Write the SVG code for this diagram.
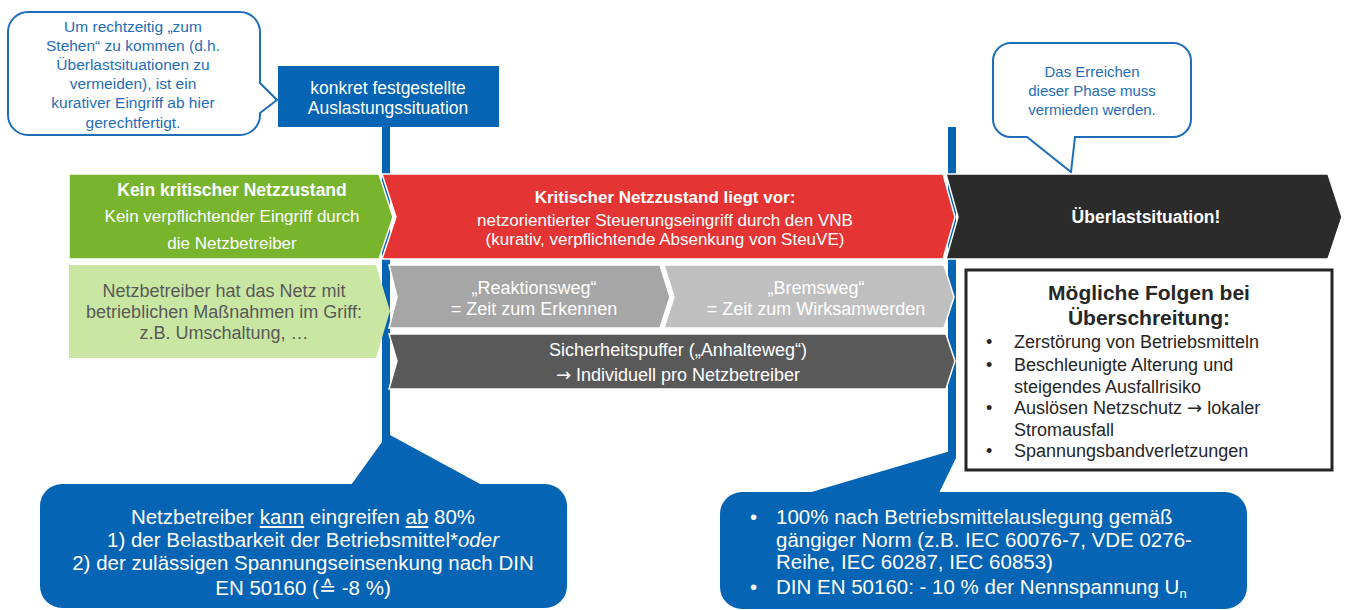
<svg xmlns="http://www.w3.org/2000/svg" width="1345" height="610" viewBox="0 0 1345 610">
<style>
text{font-family:"Liberation Sans",Arial,"DejaVu Sans",sans-serif;}
.cw{fill:#1F6DB8;font-size:15.5px;text-anchor:middle;}
.cw2{fill:#1F6DB8;font-size:15px;text-anchor:middle;}
.wt{fill:#fff;text-anchor:middle;}
.callout{fill:#fff;stroke:#1F6DB8;stroke-width:2;}
.blue{fill:#0664B4;}
.chev{stroke:#fff;stroke-width:1.5;}
.dk{fill:#262626;}
.arr{font-family:"DejaVu Sans",sans-serif;}
</style>

<g id="connectors">
  <rect class="blue" x="382" y="126" width="8" height="318"/>
  <rect class="blue" x="948" y="127" width="8" height="331"/>
</g>

<g id="callout-top-left">
  <path class="callout" d="M28,12 H240 A20,20 0 0 1 260,32 V83 L277,100 L260,113 V115 A20,20 0 0 1 240,135 H28 A20,20 0 0 1 8,115 V32 A20,20 0 0 1 28,12 Z"/>
  <text class="cw" x="133" y="32">Um rechtzeitig „zum</text>
  <text class="cw" x="133" y="51">Stehen“ zu kommen (d.h.</text>
  <text class="cw" x="133" y="70">Überlastsituationen zu</text>
  <text class="cw" x="133" y="89">vermeiden), ist ein</text>
  <text class="cw" x="133" y="108">kurativer Eingriff ab hier</text>
  <text class="cw" x="133" y="128">gerechtfertigt.</text>
</g>

<g id="box-auslastung">
  <rect class="blue" x="278" y="66" width="221" height="61"/>
  <text class="wt" x="388" y="94" font-size="17.5">konkret festgestellte</text>
  <text class="wt" x="388" y="114" font-size="17.5">Auslastungssituation</text>
</g>

<g id="callout-top-right">
  <path class="callout" d="M1011,43 H1173 A18,18 0 0 1 1191,61 V119 A18,18 0 0 1 1173,137 H1075 L1071,172 L1027,137 H1011 A18,18 0 0 1 993,119 V61 A18,18 0 0 1 1011,43 Z"/>
  <text class="cw2" x="1092" y="77">Das Erreichen</text>
  <text class="cw2" x="1092" y="96">dieser Phase muss</text>
  <text class="cw2" x="1092" y="115">vermieden werden.</text>
</g>

<g id="phase-green">
  <polygon class="chev" fill="#78B52D" points="69,174 379,174 393,217 379,259 69,259"/>
  <text class="wt" x="232" y="196" font-size="17.5" font-weight="bold">Kein kritischer Netzzustand</text>
  <text class="wt" x="232" y="222" font-size="17">Kein verpflichtender Eingriff durch</text>
  <text class="wt" x="232" y="249" font-size="17">die Netzbetreiber</text>
</g>

<g id="phase-red">
  <polygon class="chev" fill="#E53434" points="382,174 943,174 955,217 943,259 382,259 396,217"/>
  <text class="wt" x="665" y="203" font-size="17" font-weight="bold">Kritischer Netzzustand liegt vor:</text>
  <text class="wt" x="665" y="226" font-size="17">netzorientierter Steuerungseingriff durch den VNB</text>
  <text class="wt" x="665" y="245" font-size="17">(kurativ, verpflichtende Absenkung von SteuVE)</text>
</g>

<g id="phase-black">
  <polygon class="chev" fill="#2B2B2B" points="946,174 1328,174 1342,217 1328,259 946,259 958,217"/>
  <text class="wt" x="1146" y="223" font-size="17.5" font-weight="bold">Überlastsituation!</text>
</g>

<g id="netz-im-griff">
  <polygon fill="#C9E7A3" points="69,265 376,265 390,311 376,358 69,358"/>
  <text x="224" y="297" font-size="18" fill="#595959" text-anchor="middle">Netzbetreiber hat das Netz mit</text>
  <text x="224" y="318" font-size="18" fill="#595959" text-anchor="middle">betrieblichen Maßnahmen im Griff:</text>
  <text x="224" y="339" font-size="18" fill="#595959" text-anchor="middle">z.B. Umschaltung, …</text>
</g>

<g id="reaktionsweg">
  <polygon class="chev" fill="#A6A6A6" points="389,265 660,265 670,297 660,328 389,328 397,297"/>
  <text class="wt" x="534" y="294" font-size="18">„Reaktionsweg“</text>
  <text class="wt" x="534" y="315" font-size="18">= Zeit zum Erkennen</text>
</g>

<g id="bremsweg">
  <polygon class="chev" fill="#BFBFBF" points="664,265 944,265 954,297 944,328 664,328 674,297"/>
  <text class="wt" x="816" y="294" font-size="18">„Bremsweg“</text>
  <text class="wt" x="816" y="315" font-size="18">= Zeit zum Wirksamwerden</text>
</g>

<g id="sicherheitspuffer">
  <polygon class="chev" fill="#595959" points="389,334 946,334 955,361 946,389 389,389 397,361"/>
  <text class="wt" x="678" y="356" font-size="18">Sicherheitspuffer („Anhalteweg“)</text>
  <text class="wt" x="678" y="381" font-size="18"><tspan class="arr">→</tspan> Individuell pro Netzbetreiber</text>
</g>

<g id="folgen">
  <rect x="966" y="270" width="366" height="200" fill="#fff" stroke="#262626" stroke-width="3"/>
  <text class="dk" x="1149" y="300" font-size="21" font-weight="bold" text-anchor="middle">Mögliche Folgen bei</text>
  <text class="dk" x="1149" y="325" font-size="21" font-weight="bold" text-anchor="middle">Überschreitung:</text>
  <g font-size="18" fill="#262626">
    <text x="986" y="348">•</text><text x="1014" y="348">Zerstörung von Betriebsmitteln</text>
    <text x="986" y="371">•</text><text x="1014" y="371">Beschleunigte Alterung und</text>
    <text x="1014" y="393">steigendes Ausfallrisiko</text>
    <text x="986" y="414">•</text><text x="1014" y="414">Auslösen Netzschutz <tspan class="arr">→</tspan> lokaler</text>
    <text x="1014" y="436">Stromausfall</text>
    <text x="986" y="457">•</text><text x="1014" y="457">Spannungsbandverletzungen</text>
  </g>
</g>

<g id="bubble-80">
  <polygon class="blue" points="382,442 390,435 482,485 351,485"/>
  <rect class="blue" x="40" y="484" width="527" height="124" rx="22"/>
  <g class="wt" font-size="20.5">
    <text x="303" y="524">Netzbetreiber <tspan text-decoration="underline">kann</tspan> eingreifen <tspan text-decoration="underline">ab</tspan> 80%</text>
    <text x="303" y="547">1) der Belastbarkeit der Betriebsmittel*<tspan font-style="italic">oder</tspan></text>
    <text x="303" y="570">2) der zulässigen Spannungseinsenkung nach DIN</text>
    <text x="303" y="595">EN 50160 (≙ -8 %)</text>
  </g>
</g>

<g id="bubble-100">
  <polygon class="blue" points="947,452 956,452 956,458 939,493 808,493"/>
  <rect class="blue" x="720" y="492" width="527" height="117" rx="22"/>
  <g fill="#fff" font-size="20.5">
    <text x="750" y="524">•</text><text x="776" y="524">100% nach Betriebsmittelauslegung gemäß</text>
    <text x="776" y="547">gängiger Norm (z.B. IEC 60076-7, VDE 0276-</text>
    <text x="776" y="569">Reihe, IEC 60287, IEC 60853)</text>
    <text x="750" y="594">•</text><text x="776" y="594">DIN EN 50160: - 10 % der Nennspannung U<tspan font-size="13" dy="4">n</tspan></text>
  </g>
</g>
</svg>
